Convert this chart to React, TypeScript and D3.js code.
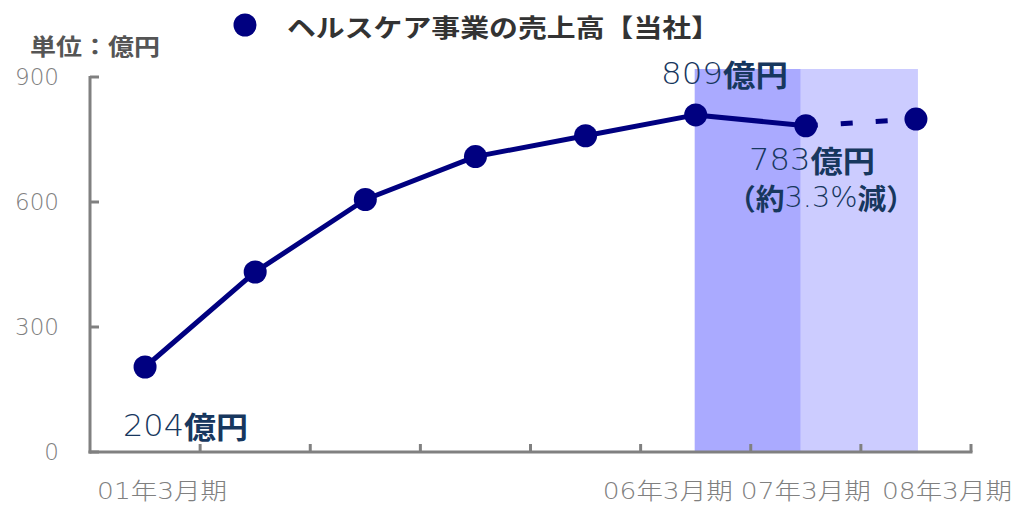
import React from "react";
import * as d3 from "d3";

const categories = ["01", "02", "03", "04", "05", "06", "07", "08"];
const values = [204, 432, 606, 709, 759, 809, 783, 799];
const yTicks = [0, 300, 600, 900];
const shownLabels = ["01年3月期", "", "", "", "", "06年3月期", "07年3月期", "08年3月期"];
const titleText = "ヘルスケア事業の売上高【当社】";
const unitText = "単位：億円";

const W = 1014, H = 506;
const left = 90, right = 971, top = 77, bottom = 452;

export default function App() {
  const x = d3.scaleBand<string>().domain(categories).range([left, right]);
  const y = d3.scaleLinear().domain([0, 900]).range([bottom, top]);
  const cx = (i: number) => (x(categories[i]) as number) + x.bandwidth() / 2;

  const solid = d3.line<number>().x((_, i) => cx(i)).y((d) => y(d))(values.slice(0, 7)) as string;
  const dashed = d3.line<number>().x((_, i) => cx(i + 6)).y((d) => y(d))(values.slice(6)) as string;

  const cjk = "'Noto Sans CJK JP', sans-serif";
  const num = "'DejaVu Sans', 'Noto Sans CJK JP', sans-serif";
  const labelColor = "#17375e";
  const gray = "#808080";
  const labelOffsets = [17, 0, 0, 0, 0, -28, 0, 31];

  const Num = ({ children }: { children: any }) => (
    <tspan fontFamily={num} fontWeight={200}>{children}</tspan>
  );

  return (
    <svg width={W} height={H} style={{ position: "absolute", left: 0, top: 0 }} fontFamily={cjk}>
      <rect x={0} y={0} width={W} height={H} fill="#fff" />
      {/* shaded periods */}
      <rect x={cx(5) - 1} y={69} width={cx(6) - cx(5) - 4} height={bottom - 69} fill="#aaaaff" />
      <rect x={cx(6) - 5} y={69} width={cx(7) - cx(6) + 7} height={bottom - 69} fill="#ccccff" />

      {/* axes */}
      <line x1={left} y1={y(900) - 1} x2={left} y2={bottom + 1.5} stroke={gray} strokeWidth={3} />
      <line x1={left - 1.5} y1={bottom} x2={right + 1.5} y2={bottom} stroke={gray} strokeWidth={3} />
      {yTicks.map((t) => (
        <g key={t}>
          <line x1={left} x2={left + 9} y1={y(t)} y2={y(t)} stroke={gray} strokeWidth={3} />
          <text x={59} y={y(t)} textAnchor="end" dominantBaseline="central" fontSize={23} fill={gray} fontFamily={num} fontWeight={200}>{t}</text>
        </g>
      ))}
      {categories.map((c) => (
        <line key={c} x1={(x(c) as number) + x.bandwidth()} x2={(x(c) as number) + x.bandwidth()} y1={bottom} y2={bottom - 8} stroke={gray} strokeWidth={3} />
      ))}
      {shownLabels.map((l, i) => l ? (
        <text key={i} x={cx(i) + labelOffsets[i]} y={491} textAnchor="middle" dominantBaseline="central" fontSize={23} fill={gray} fontFamily={num} fontWeight={200} textLength={130} lengthAdjust="spacingAndGlyphs">{l}</text>
      ) : null)}

      {/* lines */}
      <path d={solid} fill="none" stroke="#000080" strokeWidth={5} strokeLinejoin="round" />
      <path d={dashed} fill="none" stroke="#000080" strokeWidth={5} strokeDasharray="12 23" />
      {values.map((v, i) => (
        <circle key={i} cx={cx(i)} cy={y(v)} r={11.5} fill="#000080" />
      ))}

      {/* legend / title */}
      <circle cx={245} cy={25} r={11.5} fill="#000080" />
      <text x={287} y={26} dominantBaseline="central" fontSize={25} fontWeight={700} fill="#333" textLength={433} lengthAdjust="spacingAndGlyphs">{titleText}</text>
      <text x={30} y={45} dominantBaseline="central" fontSize={23} fontWeight={700} fill="#555" textLength={130} lengthAdjust="spacingAndGlyphs">{unitText}</text>

      {/* annotations */}
      <text x={123} y={425} dominantBaseline="central" fontSize={30} fill={labelColor} textLength={125} lengthAdjust="spacingAndGlyphs">
        <Num>{values[0]}</Num><tspan fontWeight={700}>億円</tspan>
      </text>
      <text x={661} y={73} dominantBaseline="central" fontSize={30} fill={labelColor} textLength={127} lengthAdjust="spacingAndGlyphs">
        <Num>{values[5]}</Num><tspan fontWeight={700}>億円</tspan>
      </text>
      <text x={749} y={159} dominantBaseline="central" fontSize={30} fill={labelColor} textLength={126} lengthAdjust="spacingAndGlyphs">
        <Num>{values[6]}</Num><tspan fontWeight={700}>億円</tspan>
      </text>
      <text x={727} y={197} dominantBaseline="central" fontSize={29} fill={labelColor} textLength={188} lengthAdjust="spacingAndGlyphs">
        <tspan fontWeight={700}>（約</tspan><Num>3.3%</Num><tspan fontWeight={700}>減）</tspan>
      </text>
    </svg>
  );
}
